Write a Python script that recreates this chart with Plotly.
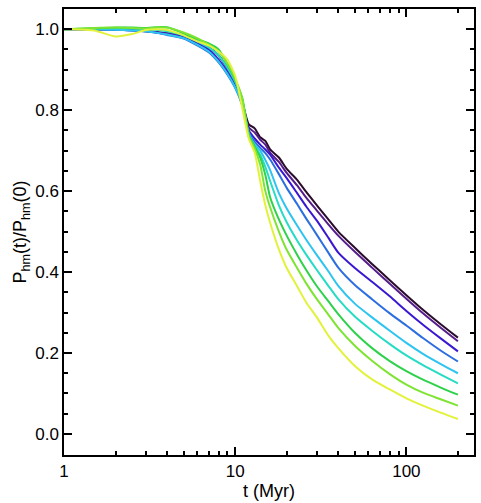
import plotly.graph_objects as go

t_myr = [1, 1.5, 2, 2.5, 3, 3.5, 4, 5, 6, 7, 8, 9, 10, 11,
         12, 13, 14, 15, 16, 18, 20, 23, 26, 30, 35, 40, 50, 63, 80, 100, 125, 160, 200]

ratio_1 = [1.0, 1.0, 1.0, 0.998, 0.995, 0.992, 0.99, 0.982, 0.97, 0.955, 0.935, 0.905, 0.87, 0.82,
           0.765, 0.755, 0.733, 0.724, 0.703, 0.683, 0.655, 0.628, 0.598, 0.565, 0.53, 0.5, 0.46, 0.42, 0.38, 0.343, 0.307, 0.27, 0.238]
ratio_2 = [1.0, 1.0, 1.0, 0.998, 0.996, 0.993, 0.99, 0.983, 0.97, 0.955, 0.935, 0.903, 0.868, 0.82,
           0.757, 0.745, 0.727, 0.715, 0.695, 0.672, 0.645, 0.614, 0.584, 0.552, 0.518, 0.49, 0.45, 0.411, 0.371, 0.334, 0.298, 0.261, 0.229]
ratio_3 = [1.0, 1.0, 0.999, 0.997, 0.995, 0.992, 0.988, 0.98, 0.965, 0.95, 0.925, 0.895, 0.86, 0.815,
           0.75, 0.73, 0.715, 0.703, 0.69, 0.658, 0.632, 0.595, 0.562, 0.527, 0.485, 0.448, 0.41, 0.376, 0.34, 0.304, 0.27, 0.235, 0.204]
ratio_4 = [1.0, 1.0, 0.999, 0.997, 0.995, 0.991, 0.986, 0.977, 0.96, 0.943, 0.918, 0.888, 0.855, 0.812,
           0.745, 0.722, 0.707, 0.694, 0.678, 0.642, 0.608, 0.568, 0.532, 0.492, 0.448, 0.411, 0.368, 0.333, 0.298, 0.268, 0.237, 0.205, 0.179]
ratio_5 = [1.0, 1.0, 0.999, 0.997, 0.995, 0.991, 0.987, 0.978, 0.962, 0.945, 0.92, 0.89, 0.856, 0.815,
           0.742, 0.715, 0.70, 0.677, 0.652, 0.595, 0.557, 0.515, 0.48, 0.442, 0.402, 0.366, 0.322, 0.288, 0.255, 0.225, 0.198, 0.172, 0.15]
ratio_6 = [1.0, 1.002, 1.003, 1.002, 1.0, 0.998, 0.995, 0.985, 0.97, 0.955, 0.935, 0.905, 0.87, 0.825,
           0.74, 0.712, 0.69, 0.66, 0.625, 0.565, 0.523, 0.478, 0.443, 0.405, 0.366, 0.333, 0.29, 0.255, 0.222, 0.194, 0.17, 0.146, 0.125]
ratio_7 = [1.0, 1.002, 1.004, 1.004, 1.003, 1.005, 1.005, 0.99, 0.975, 0.965, 0.95, 0.915, 0.875, 0.83,
           0.738, 0.71, 0.683, 0.64, 0.585, 0.53, 0.49, 0.443, 0.405, 0.365, 0.328, 0.296, 0.25, 0.212, 0.18, 0.155, 0.134, 0.114, 0.097]
ratio_8 = [1.0, 1.003, 1.004, 1.003, 1.002, 1.004, 1.004, 0.992, 0.978, 0.962, 0.945, 0.915, 0.878, 0.828,
           0.735, 0.705, 0.665, 0.6, 0.56, 0.5, 0.455, 0.41, 0.372, 0.333, 0.295, 0.262, 0.218, 0.181, 0.148, 0.122, 0.102, 0.085, 0.07]
ratio_9 = [1.0, 0.997, 0.982, 0.988, 0.998, 1.0, 0.998, 0.985, 0.97, 0.96, 0.945, 0.925, 0.885, 0.805,
           0.73, 0.695, 0.625, 0.565, 0.522, 0.456, 0.41, 0.365, 0.325, 0.288, 0.243, 0.212, 0.168, 0.135, 0.11, 0.088, 0.07, 0.052, 0.037]

series = [ratio_1, ratio_2, ratio_3, ratio_4, ratio_5, ratio_6, ratio_7, ratio_8, ratio_9]
colors = ["#2a0c2c", "#561c8a", "#3a18d2", "#2c6ee0", "#2ec4f0",
          "#26dcc4", "#2ed24a", "#7ee432", "#e2f23a"]

fig = go.Figure()
for vals, col in zip(series, colors):
    fig.add_trace(go.Scatter(x=t_myr, y=vals, mode="lines",
                             line=dict(color=col, width=2, shape="spline", smoothing=0.6),
                             showlegend=False, hoverinfo="skip"))

font = dict(family="Liberation Sans, Arial, Helvetica, sans-serif", size=17, color="black")

fig.update_layout(
    width=481, height=503,
    margin=dict(l=64, r=5, t=9, b=48),
    paper_bgcolor="white", plot_bgcolor="white",
    font=font,
)
fig.update_xaxes(
    type="log", range=[0, 2.395],
    tickvals=[1, 10, 100], ticktext=["1", "10", "100"],
    ticks="inside", ticklen=8, tickwidth=1.5, tickcolor="black",
    showline=True, linecolor="black", linewidth=1.5, mirror="ticks",
    showgrid=False, zeroline=False,
    minor=dict(ticks="inside", ticklen=4, tickwidth=1.5, tickcolor="black", dtick="D1", showgrid=False),
    title=dict(text="t (Myr)", standoff=1, font=dict(size=18)),
)
fig.update_yaxes(
    range=[-0.052, 1.05],
    tickvals=[0, 0.2, 0.4, 0.6, 0.8, 1.0], tickformat=".1f",
    ticks="inside", ticklen=8, tickwidth=1.5, tickcolor="black",
    showline=True, linecolor="black", linewidth=1.5, mirror="ticks",
    showgrid=False, zeroline=False,
    minor=dict(ticks="inside", ticklen=4, tickwidth=1.5, tickcolor="black", dtick=0.05, showgrid=False),
    title=dict(text="P<sub>hm</sub>(t)/P<sub>hm</sub>(0)", standoff=4, font=dict(size=18)),
)

fig.write_html("out.html")
